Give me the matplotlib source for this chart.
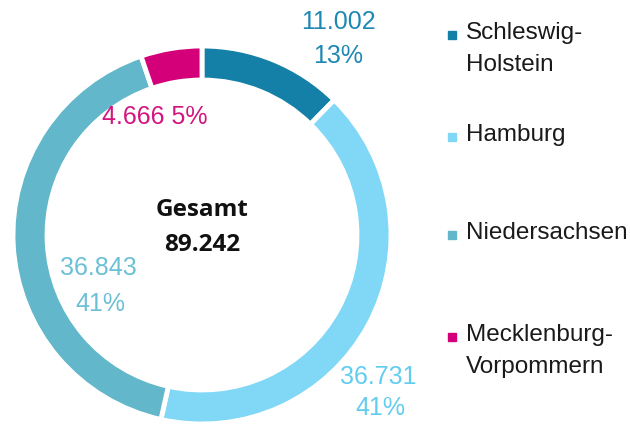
import matplotlib
matplotlib.use("Agg")
import matplotlib.pyplot as plt
from matplotlib.patches import Rectangle

categories = ["Schleswig-\nHolstein", "Hamburg", "Niedersachsen", "Mecklenburg-\nVorpommern"]
values = [11.002, 36.731, 36.843, 4.666]
value_labels = ["11.002", "36.731", "36.843", "4.666"]
pct_labels = ["13%", "41%", "41%", "5%"]
total_label = "89.242"
colors = ["#147fa7", "#80d8f6", "#62b7ca", "#d4007a"]
text_colors = ["#1d88b4", "#62cdef", "#6cc0d5", "#d3157f"]

W, H = 630, 426
fig = plt.figure(figsize=(W / 100, H / 100), dpi=100)
cx, cy, R = 202, 235, 189
ax = fig.add_axes([(cx - R) / W, (H - cy - R) / H, 2 * R / W, 2 * R / H])

ax.pie(values, colors=colors, startangle=90, counterclock=False, radius=1,
       wedgeprops=dict(width=0.18, edgecolor="white", linewidth=3.5))
ax.set_xlim(-1, 1)
ax.set_ylim(-1, 1)
ax.set_aspect("equal")
ax.axis("off")

num_font = ["Liberation Sans Narrow", "Liberation Sans", "DejaVu Sans"]

def P(px, py):
    return ((px - cx) / R, (cy - py) / R)

# value labels
lab_pos = [((338, 22), (338, 56)), ((378, 377), (380, 408)), ((98, 268), (100, 304))]
for i, (p1, p2) in enumerate(lab_pos):
    ax.text(*P(*p1), value_labels[i], color=text_colors[i], fontsize=18, ha="center", va="center",
            family=num_font, clip_on=False)
    ax.text(*P(*p2), pct_labels[i], color=text_colors[i], fontsize=18, ha="center", va="center",
            family=num_font, clip_on=False)
ax.text(*P(155, 117), value_labels[3] + " " + pct_labels[3], color=text_colors[3], fontsize=18,
        ha="center", va="center", family=num_font, clip_on=False)

ax.text(*P(202, 210), "Gesamt", color="#111111", fontsize=17.5, fontweight="bold",
        ha="center", va="center", family=["Open Sans", "DejaVu Sans"])
ax.text(*P(202, 245), total_label, color="#111111", fontsize=17.5, fontweight="bold",
        ha="center", va="center", family=["Open Sans", "DejaVu Sans"])

# legend
leg_y = [35, 137, 235, 337]
for i, name in enumerate(categories):
    y = leg_y[i]
    fig.patches.append(Rectangle(((448) / W, (H - y - 4) / H), 8 / W, 8 / H,
                                 transform=fig.transFigure, color=colors[i]))
    fig.text(466 / W, (H - y + 13) / H, name, fontsize=17.5, color="#1a1a1a", ha="left", va="top",
             family=num_font, linespacing=1.6)

fig.savefig("out.png", dpi=100)
